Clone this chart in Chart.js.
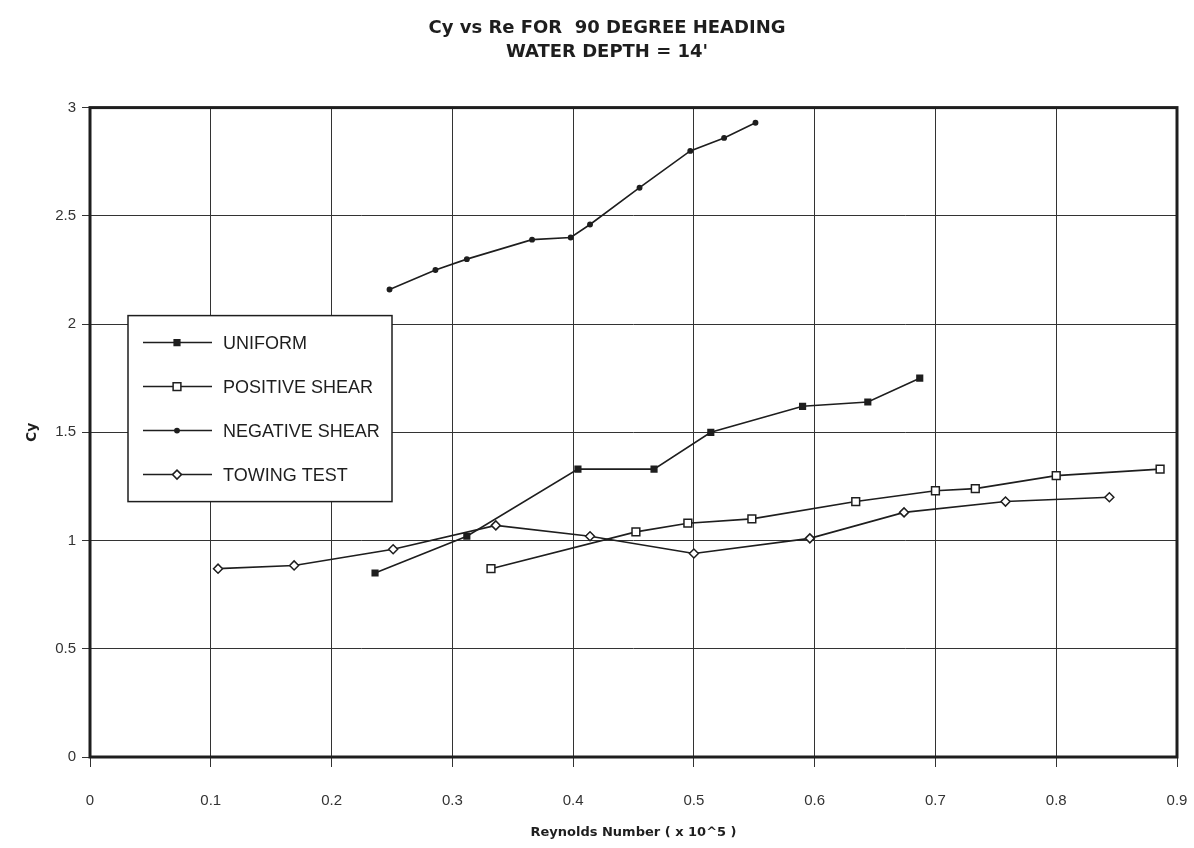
<!DOCTYPE html>
<html>
<head>
<meta charset="utf-8">
<script src="https://cdn.jsdelivr.net/npm/chart.js@4.4.1/dist/chart.umd.min.js"></script>
<style>
  html, body { margin: 0; padding: 0; background: #fff; }
  #wrap { width: 1194px; height: 848px; }
</style>
</head>
<body>
<div id="wrap"><canvas id="chartCy" width="1194" height="848"></canvas></div>
<script>
// values
const uniformX = [0.236, 0.312, 0.404, 0.467, 0.514, 0.590, 0.644, 0.687];
const uniformY = [0.85, 1.02, 1.33, 1.33, 1.50, 1.62, 1.64, 1.75];

const posShearX = [0.332, 0.452, 0.495, 0.548, 0.634, 0.700, 0.733, 0.800, 0.886];
const posShearY = [0.87, 1.04, 1.08, 1.10, 1.18, 1.23, 1.24, 1.30, 1.33];

const negShearX = [0.248, 0.286, 0.312, 0.366, 0.398, 0.414, 0.455, 0.497, 0.525, 0.551];
const negShearY = [2.16, 2.25, 2.30, 2.39, 2.40, 2.46, 2.63, 2.80, 2.86, 2.93];

const towingX = [0.106, 0.169, 0.251, 0.336, 0.414, 0.500, 0.596, 0.674, 0.758, 0.844];
const towingY = [0.87, 0.885, 0.96, 1.07, 1.02, 0.94, 1.01, 1.13, 1.18, 1.20];

const seriesNames = ['UNIFORM', 'POSITIVE SHEAR', 'NEGATIVE SHEAR', 'TOWING TEST'];
const titleLines = ['Cy vs Re FOR  90 DEGREE HEADING', 'WATER DEPTH = 14\''];
const xTitle = 'Reynolds Number ( x 10^5 )';
const yTitle = 'Cy';

const ink = '#1e1e1e';

function toPoints(xs, ys) {
    return xs.map(function (x, i) { return { x: x, y: ys[i] }; });
}

function series(label, xs, ys, style, radius, fill) {
    return {
        label: label,
        data: toPoints(xs, ys),
        showLine: true,
        borderColor: ink,
        borderWidth: 1.6,
        pointStyle: style,
        pointRadius: radius,
        pointHoverRadius: radius,
        pointBorderWidth: 1.5,
        pointBorderColor: ink,
        pointBackgroundColor: fill,
        backgroundColor: fill
    };
}

let data = {
    datasets: [
        series(seriesNames[0], uniformX, uniformY, 'rect', 4, ink),
        series(seriesNames[1], posShearX, posShearY, 'rect', 5.5, '#fff'),
        series(seriesNames[2], negShearX, negShearY, 'circle', 2.2, ink),
        series(seriesNames[3], towingX, towingY, 'rectRot', 4.5, '#fff')
    ]
};

// legend box sits inside the plot, drawn by hand
const boxLegend = {
    id: 'boxLegend',
    afterDatasetsDraw: function (chart) {
        const c = chart.ctx;
        const area = chart.chartArea;
        const bx = area.left + 38, by = area.top + 208, bw = 264, bh = 186;
        c.save();
        c.fillStyle = '#fff';
        c.fillRect(bx, by, bw, bh);
        c.strokeStyle = ink;
        c.lineWidth = 1.5;
        c.strokeRect(bx, by, bw, bh);
        c.font = '18px "Liberation Sans"';
        c.textBaseline = 'middle';
        chart.data.datasets.forEach(function (ds, i) {
            const y = by + 27 + i * 44;
            c.strokeStyle = ink;
            c.lineWidth = 1.5;
            c.beginPath();
            c.moveTo(bx + 15, y);
            c.lineTo(bx + 84, y);
            c.stroke();
            c.fillStyle = ds.pointBackgroundColor;
            c.strokeStyle = ink;
            c.lineWidth = 1.5;
            Chart.helpers.drawPoint(c, {
                pointStyle: ds.pointStyle,
                radius: ds.pointRadius,
                borderWidth: 1.5,
                rotation: 0
            }, bx + 49, y);
            c.fillStyle = ink;
            c.fillText(ds.label, bx + 95, y + 1);
        });
        c.restore();
    }
};

// heavy frame round the plot area
const heavyFrame = {
    id: 'heavyFrame',
    afterDraw: function (chart) {
        const c = chart.ctx;
        const a = chart.chartArea;
        c.save();
        c.strokeStyle = ink;
        c.lineWidth = 3;
        c.strokeRect(a.left, a.top, a.right - a.left, a.bottom - a.top);
        c.restore();
    }
};

let options = {
    responsive: false,
    animation: false,
    layout: { padding: { left: 20, right: 0, top: 0, bottom: 8 } },
    scales: {
        x: {
            type: 'linear',
            min: 0,
            max: 0.9,
            ticks: {
                stepSize: 0.1,
                color: '#333',
                padding: 25,
                font: { family: 'Liberation Sans', size: 15 },
                callback: function (v) { return Math.round(v * 10) / 10; }
            },
            grid: { color: '#333', lineWidth: 1, tickLength: 10 },
            border: { display: false },
            title: {
                display: true,
                text: xTitle,
                color: ink,
                padding: 0,
                font: { family: 'DejaVu Sans', size: 13, weight: 'bold' }
            },
            afterFit: function (s) {
                s.height = 83;
                s.paddingLeft = 0;
                s.paddingRight = 17;
            }
        },
        y: {
            min: 0,
            max: 3,
            ticks: {
                stepSize: 0.5,
                color: '#333',
                padding: 6,
                font: { family: 'Liberation Sans', size: 15 },
                callback: function (v) { return Math.round(v * 10) / 10; }
            },
            grid: { color: '#333', lineWidth: 1, tickLength: 8 },
            border: { display: false },
            title: {
                display: true,
                text: yTitle,
                color: ink,
                padding: 4,
                font: { family: 'DejaVu Sans', size: 14, weight: 'bold' }
            },
            afterFit: function (s) { s.width = 70; }
        }
    },
    plugins: {
        legend: { display: false },
        tooltip: { enabled: false },
        title: {
            display: true,
            text: titleLines,
            color: ink,
            font: { family: 'DejaVu Sans', size: 18, weight: 'bold', lineHeight: 1.35 },
            padding: { top: 16, bottom: 43 }
        }
    }
};

const ctx = document.getElementById('chartCy').getContext('2d');
const cyChart = new Chart(ctx, {
    type: 'scatter',
    data: data,
    options: options,
    plugins: [boxLegend, heavyFrame]
});
</script>
</body>
</html>
